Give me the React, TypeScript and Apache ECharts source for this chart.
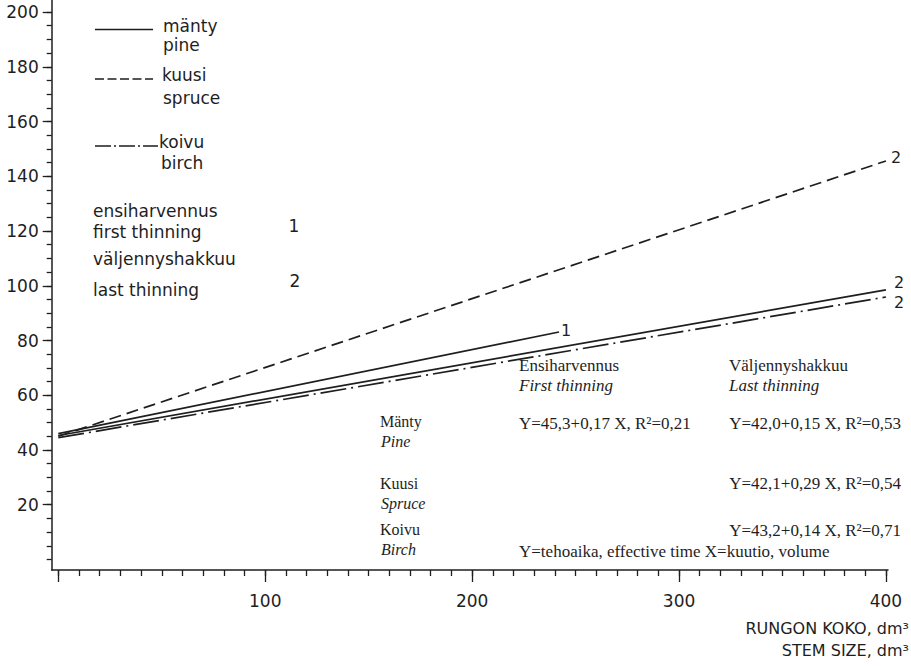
import React, { useEffect, useRef } from "react";
import * as echarts from "echarts";

// ---- data ----
const pineFirst: number[][] = [[0, 46], [242, 83.1]];
const pineLast: number[][] = [[0, 45.3], [400, 98.5]];
const spruceLast: number[][] = [[0, 45], [400, 145.6]];
const birchLast: number[][] = [[0, 44.5], [400, 95.9]];

const yTickLabels = [20, 40, 60, 80, 100, 120, 140, 160, 180, 200];
const xTickLabels = [100, 200, 300, 400];
const xMajorTicks = [0, 100, 200, 300, 400];

const X_MIN = -3.2;
const X_MAX = 401;
const Y_MIN = -3.84;
const Y_MAX = 204.4;

const INK = "#1e1e1e";
const SANS = "DejaVu Sans";
const SERIF = "Liberation Serif";

function range(a: number, b: number, step: number) {
  const out: number[] = [];
  for (let v = a; v <= b + 1e-9; v += step) out.push(v);
  return out;
}

function txt(text: string, x: number, y: number, opts: any = {}) {
  const align = opts.align || "left";
  const fs = opts.fontSize || 17;
  return {
    type: "text",
    x,
    y,
    silent: true,
    style: {
      text,
      fill: INK,
      fontSize: fs,
      fontFamily: opts.fontFamily || SANS,
      fontStyle: opts.fontStyle || "normal",
      lineHeight: opts.lineHeight || fs,
      textAlign: align,
      align,
      textVerticalAlign: "middle",
      verticalAlign: "middle",
    },
  };
}

function legLine(x1: number, x2: number, y: number, dash: any) {
  return {
    type: "line",
    silent: true,
    shape: { x1, y1: y, x2, y2: y },
    style: { stroke: INK, lineWidth: 1.6, lineDash: dash },
  };
}

export default function App() {
  const ref = useRef<HTMLDivElement>(null);

  useEffect(() => {
    document.body.style.margin = "0";
    if (!ref.current) return;
    const chart = echarts.init(ref.current, undefined, { renderer: "svg" });

    const axisCommon = {
      type: "value",
      min: X_MIN,
      max: X_MAX,
      splitLine: { show: false },
    };

    const endLabel = (t: string, dist: number, off: number[]) => ({
      show: true,
      formatter: t,
      distance: dist,
      offset: off,
      color: INK,
      fontSize: 16,
      fontFamily: SANS,
    });

    const lineSeries = (name: string, data: number[][], type: any, lbl: any) => ({
      name,
      type: "line",
      data,
      symbol: "none",
      showSymbol: false,
      silent: true,
      clip: false,
      lineStyle: { color: INK, width: 1.7, type },
      endLabel: lbl,
    });

    const serif = { fontFamily: SERIF, lineHeight: 15 };
    const serifIt = { fontFamily: SERIF, fontStyle: "italic", lineHeight: 15 };
    const serifS = { fontFamily: SERIF, fontSize: 16, lineHeight: 14 };
    const serifSIt = { fontFamily: SERIF, fontSize: 16, fontStyle: "italic", lineHeight: 14 };

    const option: any = {
      animation: false,
      backgroundColor: "#fff",
      grid: {
        left: 51.7,
        right: 23,
        top: 0,
        bottom: 96,
        containLabel: false,
        outerBoundsMode: "none",
      },
      xAxis: [
        {
          ...axisCommon,
          position: "bottom",
          axisLine: { show: true, onZero: false, lineStyle: { color: INK, width: 1.5 } },
          axisTick: {
            show: true,
            length: 6,
            customValues: range(0, 400, 10),
            lineStyle: { color: INK, width: 1.3 },
          },
          axisLabel: {
            show: true,
            customValues: xTickLabels,
            margin: 22,
            color: INK,
            fontSize: 17,
            fontFamily: SANS,
          },
        },
        {
          ...axisCommon,
          position: "bottom",
          offset: 0,
          axisLine: { show: false, onZero: false },
          axisTick: {
            show: true,
            length: 12,
            customValues: xMajorTicks,
            lineStyle: { color: INK, width: 1.3 },
          },
          axisLabel: { show: false },
        },
      ],
      yAxis: [
        {
          type: "value",
          min: Y_MIN,
          max: Y_MAX,
          position: "left",
          splitLine: { show: false },
          axisLine: { show: true, onZero: false, lineStyle: { color: INK, width: 1.5 } },
          axisTick: {
            show: true,
            length: 5,
            customValues: range(0, 200, 5),
            lineStyle: { color: INK, width: 1.3 },
          },
          axisLabel: {
            show: true,
            customValues: yTickLabels,
            margin: 13,
            color: INK,
            fontSize: 17,
            fontFamily: SANS,
          },
        },
        {
          type: "value",
          min: Y_MIN,
          max: Y_MAX,
          position: "left",
          offset: 0,
          splitLine: { show: false },
          axisLine: { show: false, onZero: false },
          axisTick: {
            show: true,
            length: 9,
            customValues: yTickLabels,
            lineStyle: { color: INK, width: 1.3 },
          },
          axisLabel: { show: false },
        },
      ],
      series: [
        lineSeries("Mänty 1", pineFirst, "solid", endLabel("1", 2, [0, -2])),
        lineSeries("Mänty 2", pineLast, "solid", endLabel("2", 8, [0, -7])),
        lineSeries("Kuusi 2", spruceLast, [12, 6], endLabel("2", 5, [0, -3])),
        lineSeries("Koivu 2", birchLast, [26, 5, 2, 5], endLabel("2", 8, [0, 6])),
      ],
      graphic: [
        // legend
        legLine(95, 153, 29.5, null),
        txt("mänty", 163, 26),
        txt("pine", 163, 45),
        legLine(95, 153, 79, [9, 3.5]),
        txt("kuusi", 162, 75),
        txt("spruce", 163, 98),
        legLine(95, 158, 146, [16, 3, 2, 3]),
        txt("koivu", 159, 142),
        txt("birch", 161, 163),
        txt("ensiharvennus", 93, 211),
        txt("first thinning", 93, 232),
        txt("1", 294, 226, { align: "center" }),
        txt("väljennyshakkuu", 93, 259),
        txt("last thinning", 93, 290),
        txt("2", 295, 281, { align: "center" }),
        // equation table
        txt("Ensiharvennus", 519, 365, serif),
        txt("First thinning", 519, 385, serifIt),
        txt("Väljennyshakkuu", 729, 365, serif),
        txt("Last thinning", 729, 385, serifIt),
        txt("Mänty", 380, 421, serifS),
        txt("Pine", 381, 441, serifSIt),
        txt("Y=45,3+0,17 X, R²=0,21", 519, 423, serif),
        txt("Y=42,0+0,15 X, R²=0,53", 901, 423, { ...serif, align: "right" }),
        txt("Kuusi", 380, 483, serifS),
        txt("Spruce", 381, 503, serifSIt),
        txt("Y=42,1+0,29 X, R²=0,54", 901, 483, { ...serif, align: "right" }),
        txt("Koivu", 380, 529, serifS),
        txt("Birch", 381, 549, serifSIt),
        txt("Y=43,2+0,14 X, R²=0,71", 901, 530, { ...serif, align: "right" }),
        txt("Y=tehoaika, effective time X=kuutio, volume", 519, 551, serif),
        // axis title
        txt("RUNGON KOKO, dm³", 909, 628, { fontSize: 16, align: "right" }),
        txt("STEM SIZE, dm³", 909, 650, { fontSize: 16, align: "right" }),
      ],
    };

    chart.setOption(option);
    return () => chart.dispose();
  }, []);

  return (
    <div
      ref={ref}
      style={{ position: "fixed", left: 0, top: 0, width: 911, height: 666, background: "#fff" }}
    />
  );
}
